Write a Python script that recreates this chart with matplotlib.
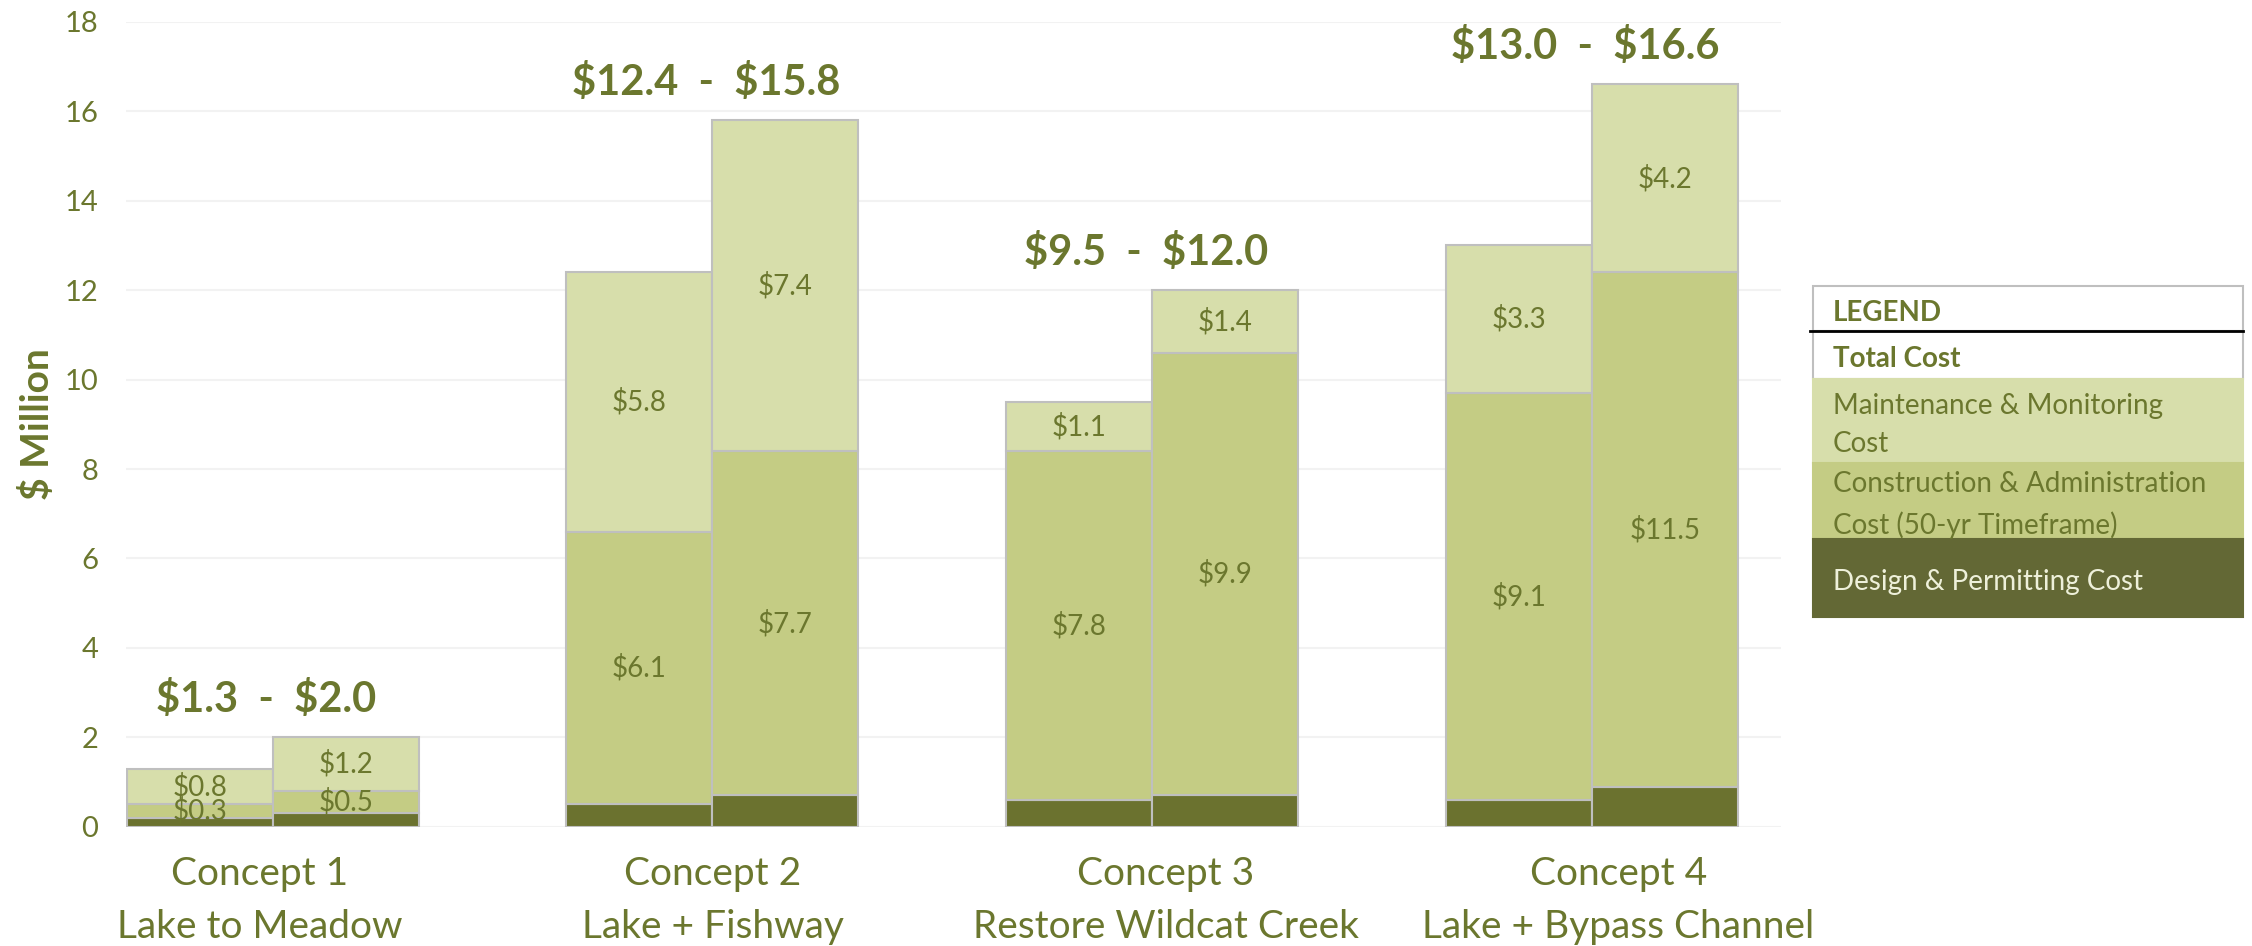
import matplotlib.pyplot as plt
from matplotlib.patches import Rectangle
import numpy as np

plt.rcParams['font.family'] = ['Lato', 'DejaVu Sans']

concepts = ['Concept 1\nLake to Meadow', 'Concept 2\nLake + Fishway',
            'Concept 3\nRestore Wildcat Creek', 'Concept 4\nLake + Bypass Channel']
# low / high estimates per concept ($ million)
design_low = [0.2, 0.5, 0.6, 0.6]
design_high = [0.3, 0.7, 0.7, 0.9]
constr_low = [0.3, 6.1, 7.8, 9.1]
constr_high = [0.5, 7.7, 9.9, 11.5]
maint_low = [0.8, 5.8, 1.1, 3.3]
maint_high = [1.2, 7.4, 1.4, 4.2]
total_low = [1.3, 12.4, 9.5, 13.0]
total_high = [2.0, 15.8, 12.0, 16.6]

TXT = '#6B772E'
C_MAINT = '#D7DEAB'
C_CONSTR = '#C4CC84'
C_DESIGN = '#6B722F'
EDGE = '#BFBFBF'

fig = plt.figure(figsize=(22.52, 9.46), dpi=100)
ax = fig.add_axes([0.056, 0.126, 0.735, 0.851])

x = np.arange(len(concepts))
w = 0.332

for off, d, c, m in [(-w / 2, design_low, constr_low, maint_low),
                     (w / 2, design_high, constr_high, maint_high)]:
    d = np.array(d)
    c = np.array(c)
    m = np.array(m)
    ax.bar(x + off, d, w, color=C_DESIGN, edgecolor=EDGE, linewidth=1.5, zorder=3)
    ax.bar(x + off, c, w, bottom=d, color=C_CONSTR, edgecolor=EDGE, linewidth=1.5, zorder=3)
    ax.bar(x + off, m, w, bottom=d + c, color=C_MAINT, edgecolor=EDGE, linewidth=1.5, zorder=3)
    for i in range(len(x)):
        ax.text(x[i] + off, d[i] + c[i] / 2, f'${c[i]:.1f}', ha='center', va='center',
                fontsize=20, color=TXT, zorder=4, parse_math=False)
        ax.text(x[i] + off, d[i] + c[i] + m[i] / 2, f'${m[i]:.1f}', ha='center', va='center',
                fontsize=20, color=TXT, zorder=4, parse_math=False)

for i in range(len(x)):
    top = max(total_low[i], total_high[i])
    ax.text(x[i] - 0.015, top + 0.85, f'${total_low[i]:.1f}  -  ${total_high[i]:.1f}',
            ha='center', va='center', fontsize=30, fontweight='bold', color=TXT,
            parse_math=False)

ax.set_xlim(-0.333, 3.43)
ax.set_ylim(0, 18)
ax.set_yticks(np.arange(0, 19, 2))
# category labels sit slightly wider apart than the bar groups
ax.set_xticks(x * 1.03 - 0.03)
ax.set_xticklabels(concepts, fontsize=28, color=TXT, linespacing=1.6)
ax.tick_params(axis='y', labelsize=21, labelcolor=TXT, length=0, pad=20)
ax.tick_params(axis='x', length=0, pad=21)
ax.grid(axis='y', color='#F2F2F2', linewidth=1.5, zorder=0)
for s in ax.spines.values():
    s.set_visible(False)
ax.set_ylabel('$ Million', fontsize=28, fontweight='bold', color=TXT, parse_math=False)
ax.yaxis.set_label_coords(-0.043, 0.5)

# legend drawn as a table
W, H = 2252, 946
lx0, lx1 = 1813, 2243
rows = [(286, 331, 'white', 'LEGEND', TXT, 'bold'),
        (331, 379, 'white', 'Total Cost', TXT, 'bold'),
        (379, 463, C_MAINT, 'Maintenance & Monitoring\nCost', TXT, 'normal'),
        (463, 539, C_CONSTR, 'Construction & Administration\nCost (50-yr Timeframe)', TXT, 'normal'),
        (539, 617, '#636835', 'Design & Permitting Cost', '#EEF0DA', 'normal')]
for y0, y1, fc, label, tc, fw in rows:
    ec = EDGE if fc == 'white' else fc
    fig.patches.append(Rectangle((lx0 / W, 1 - y1 / H), (lx1 - lx0) / W, (y1 - y0) / H,
                                 transform=fig.transFigure, facecolor=fc, edgecolor=ec,
                                 linewidth=1.5))
    fig.text(1833 / W, 1 - ((y0 + y1) / 2 + 4) / H, label, ha='left', va='center',
             fontsize=20, color=tc, fontweight=fw, linespacing=1.6)
fig.add_artist(plt.Line2D([1810 / W, 2243 / W], [1 - 331 / H, 1 - 331 / H],
                          transform=fig.transFigure, color='black', linewidth=2))

fig.savefig('out.png', dpi=100)
